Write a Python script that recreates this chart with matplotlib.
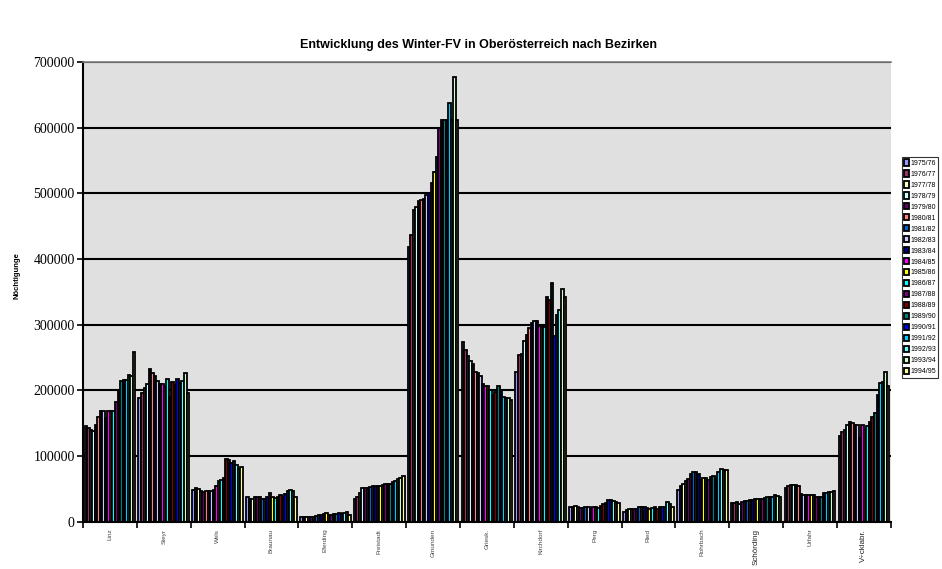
import matplotlib
matplotlib.use("Agg")
import matplotlib.pyplot as plt
import numpy as np
from matplotlib.ticker import FixedLocator, FuncFormatter

districts = ["Linz", "Steyr", "Wels", "Braunau", "Eferding", "Freistadt", "Gmunden",
             "Griesk.", "Kirchdorf", "Perg", "Ried", "Rohrbach", "Schörding", "Urfahr",
             "V÷cklabr."]

seasons = ["1975/76", "1976/77", "1977/78", "1978/79", "1979/80", "1980/81", "1981/82",
           "1982/83", "1983/84", "1984/85", "1985/86", "1986/87", "1987/88", "1988/89",
           "1989/90", "1990/91", "1991/92", "1992/93", "1993/94", "1994/95"]

# values per district, one per season (thousands of overnight stays)
linz      = [146, 143, 140, 138, 147, 160, 168, 168, 158, 168, 168, 168, 183, 200, 215, 216, 216, 224, 222, 258]
steyr     = [188, 196, 203, 210, 232, 226, 222, 215, 209, 209, 205, 218, 190, 212, 208, 218, 211, 215, 226, 196]
wels      = [49, 51, 50, 47, 45, 46, 46, 47, 49, 55, 62, 64, 66, 95, 94, 90, 92, 86, 80, 83]
braunau   = [38, 35, 35, 37, 37, 37, 34, 35, 38, 43, 37, 36, 37, 40, 38, 42, 46, 48, 46, 37]
eferding  = [7, 7, 7, 7, 7, 7, 9, 10, 10, 12, 13, 10, 10, 11, 12, 13, 12, 14, 15, 10]
freistadt = [34, 38, 44, 52, 52, 52, 53, 54, 55, 55, 54, 56, 57, 57, 58, 60, 62, 65, 67, 70]
gmunden   = [418, 436, 475, 479, 488, 490, 492, 498, 500, 515, 533, 556, 600, 612, 612, 612, 637, 612, 677, 612]
griesk    = [274, 262, 252, 245, 240, 228, 226, 222, 210, 206, 207, 200, 193, 198, 207, 200, 190, 189, 188, 185]
kirchdorf = [228, 254, 256, 275, 285, 295, 302, 305, 305, 298, 297, 296, 342, 338, 363, 283, 314, 322, 354, 342]
perg      = [22, 23, 24, 22, 21, 21, 22, 22, 21, 22, 23, 21, 24, 27, 29, 33, 33, 32, 30, 29]
ried      = [15, 18, 19, 19, 19, 20, 22, 22, 22, 21, 20, 21, 22, 20, 22, 23, 23, 30, 27, 22]
rohrbach  = [49, 54, 58, 62, 65, 72, 76, 76, 73, 64, 66, 67, 63, 68, 69, 66, 75, 80, 78, 78]
schaerding = [28, 29, 30, 27, 30, 31, 32, 33, 33, 34, 35, 35, 35, 36, 37, 37, 38, 40, 39, 37]
urfahr    = [52, 54, 56, 56, 56, 55, 42, 41, 40, 41, 41, 40, 38, 37, 38, 43, 44, 45, 45, 47]
voecklabr = [130, 136, 140, 148, 152, 150, 148, 147, 128, 147, 140, 145, 152, 159, 165, 193, 211, 213, 228, 207]

series_colors = ["#9999FF", "#993366", "#FFFFCC", "#CCFFFF", "#660066", "#FF8080", "#0066CC",
                 "#CCCCFF", "#000080", "#FF00FF", "#FFFF00", "#00FFFF", "#800080", "#800000",
                 "#008080", "#0000FF", "#00CCFF", "#66FFFF", "#CCFFCC", "#FFFF99"]

data = np.array([linz, steyr, wels, braunau, eferding, freistadt, gmunden, griesk,
                 kirchdorf, perg, ried, rohrbach, schaerding, urfahr, voecklabr]) * 1000

W, H = 942, 569
fig = plt.figure(figsize=(W / 100, H / 100), dpi=100)
ax = fig.add_axes([83 / W, 1 - 521.7 / H, (890.8 - 83) / W, (521.7 - 62) / H])
ax.set_facecolor("#E0E0E0")

n_cat = len(districts)
n_ser = len(seasons)
group = 0.94
w = group / n_ser
x = np.arange(n_cat)
for j in range(n_ser):
    ax.bar(x + (j - (n_ser - 1) / 2) * w, data[:, j], width=w, color=series_colors[j],
           edgecolor="black", linewidth=1.3, label=seasons[j], zorder=2)

ax.set_xlim(-0.5, n_cat - 0.5)
ax.set_ylim(0, 700000)
ax.set_yticks(np.arange(0, 700001, 100000))
ax.yaxis.set_major_formatter(FuncFormatter(lambda v, p: f"{int(v)}"))
ax.grid(axis="y", color="black", linewidth=1.5, zorder=1)
ax.set_axisbelow(True)
for lab in ax.get_yticklabels():
    lab.set_fontfamily("Liberation Serif")
    lab.set_fontsize(10)
ax.tick_params(axis="y", length=4, width=1.2, pad=2, colors="black")

ax.xaxis.set_major_locator(FixedLocator(np.arange(-0.5, n_cat, 1.0)))
ax.xaxis.set_major_formatter(FuncFormatter(lambda v, p: ""))
ax.xaxis.set_minor_locator(FixedLocator(x))
ax.set_xticklabels(districts, minor=True, rotation=90)
ax.tick_params(axis="x", which="major", length=4, width=1.2)
ax.tick_params(axis="x", which="minor", length=0, pad=5)
for lab in ax.get_xticklabels(minor=True):
    lab.set_fontfamily("Liberation Sans")
    if lab.get_text() in ("Schörding", "V÷cklabr."):
        lab.set_fontsize(5.8)
        lab.set_color("#222222")
    else:
        lab.set_fontsize(4.6)
        lab.set_color("#444444")

for s in ["left", "bottom"]:
    ax.spines[s].set_linewidth(1.5)
    ax.spines[s].set_color("black")
ax.spines["top"].set_color("#808080")
ax.spines["top"].set_linewidth(1.2)
ax.spines["right"].set_visible(False)

fig.text(478 / W, 1 - 45 / H, "Entwicklung des Winter-FV in Oberösterreich nach Bezirken",
         ha="center", va="center", fontsize=9, fontweight="bold", family="Liberation Sans")
fig.text(17 / W, 1 - 276 / H, "Nöchtigunge", rotation=90, ha="center", va="center",
         fontsize=5.5, fontweight="bold", family="Liberation Sans")

leg = fig.legend(loc="upper left", bbox_to_anchor=(902 / W, 1 - 157 / H),
                 bbox_transform=fig.transFigure, frameon=True, fancybox=False,
                 prop={"family": "Liberation Sans", "size": 5}, handlelength=0.6,
                 handleheight=1.0, handletextpad=0.2, labelspacing=0.5,
                 borderpad=0.35, borderaxespad=0)
leg.get_frame().set_edgecolor("black")
leg.get_frame().set_linewidth(0.8)

fig.savefig("out.png", dpi=100)
